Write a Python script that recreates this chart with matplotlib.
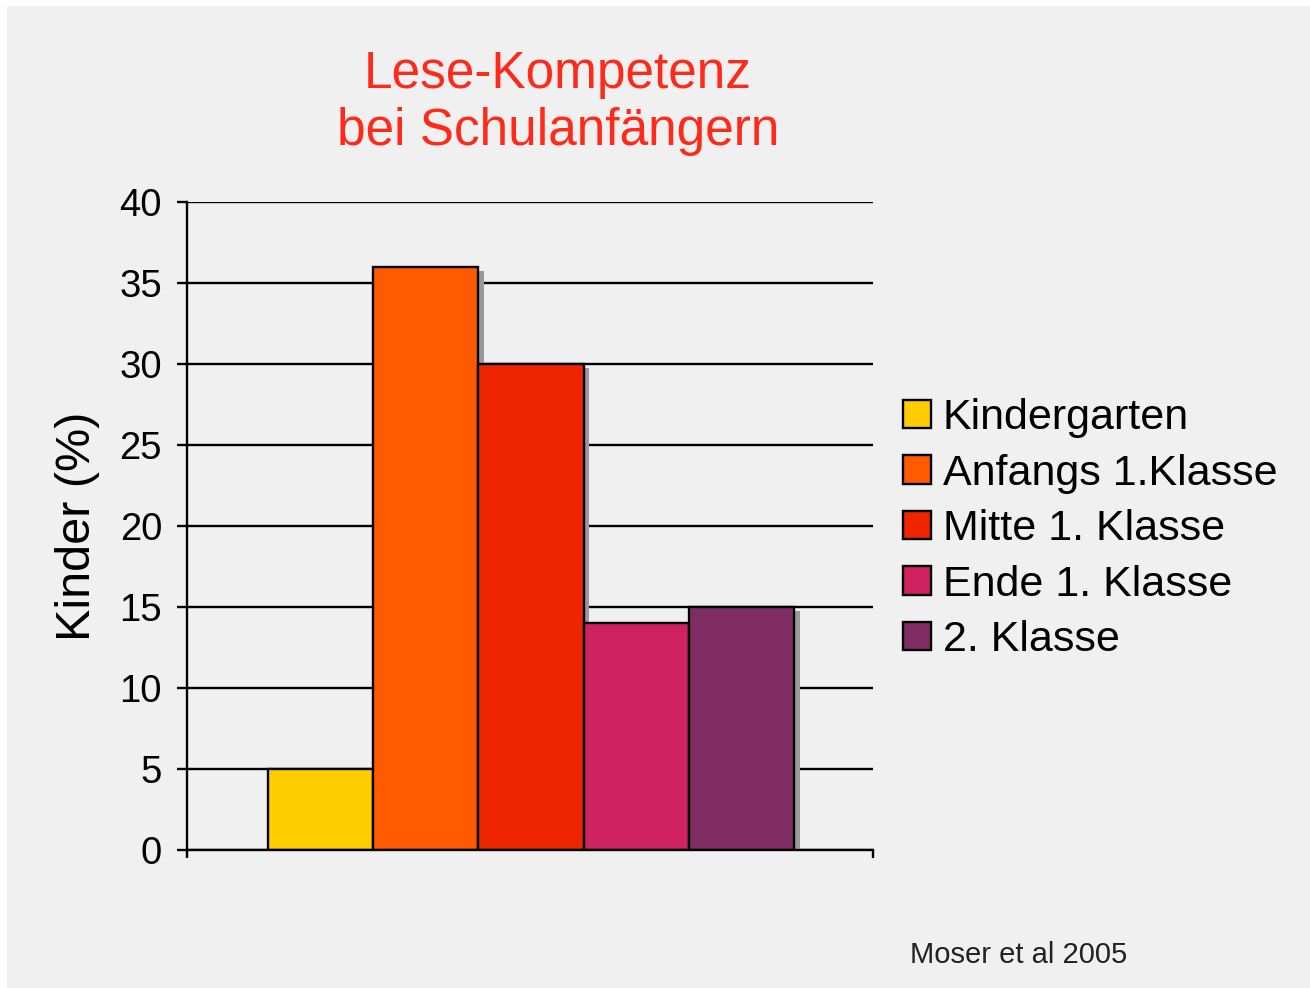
import matplotlib
matplotlib.use("Agg")
import matplotlib.pyplot as plt
import matplotlib.patheffects as pe
from matplotlib.patches import Rectangle

categories = ["Kindergarten", "Anfangs 1.Klasse", "Mitte 1. Klasse", "Ende 1. Klasse", "2. Klasse"]
values = [5, 36, 30, 14, 15]
colors = ["#ffcc00", "#ff5a00", "#ef2400", "#cf2360", "#802d65"]
yticks = [0, 5, 10, 15, 20, 25, 30, 35, 40]

plt.rcParams['font.family'] = ['Liberation Sans', 'DejaVu Sans']

W, H = 1310, 988
fig = plt.figure(figsize=(W / 100, H / 100), dpi=100, facecolor="white")
fig.patches.append(Rectangle((7 / W, 0), 1, (H - 6) / H, transform=fig.transFigure,
                             facecolor="#f0f0f0", edgecolor="none", zorder=-10))

ax = fig.add_axes([187 / W, 1 - 850 / H, (873 - 187) / W, (850 - 202) / H])
ax.set_facecolor("none")

shadow = [pe.SimplePatchShadow(offset=(4.0, -3.0), shadow_rgbFace="#999999", alpha=1.0), pe.Normal()]
xs = list(range(len(values)))
bars = ax.bar(xs, values, width=1.0, color=colors, edgecolor="black", linewidth=1.7,
              zorder=3)
for b, lab in zip(bars, categories):
    b.set_path_effects(shadow)
    b.set_label(lab)

ax.set_xlim(-1.27, 5.25)
ax.set_ylim(0, 40)
ax.set_yticks(yticks)
ax.set_xticks([-1.27, 5.25])
ax.set_xticklabels([])
ax.yaxis.grid(True, color="black", linewidth=1.7, zorder=1)
ax.set_axisbelow(True)
for s in ["top", "right"]:
    ax.spines[s].set_visible(False)
for s in ["left", "bottom"]:
    ax.spines[s].set_linewidth(1.7)
    ax.spines[s].set_zorder(4)
ax.tick_params(axis="y", length=7, width=1.7, direction="out", labelsize=27.5, pad=11)
ax.tick_params(axis="x", length=6, width=1.7, direction="out")

ax.set_ylabel("Kinder (%)", fontsize=35, labelpad=14)

fig.text(558 / W, 1 - 103 / H, "Lese-Kompetenz\nbei Schulanfängern", color="#ff2a1a",
         fontsize=37, ha="center", va="center", linespacing=1.22)

fig.text(910 / W, 1 - 955 / H, "Moser et al 2005", fontsize=21, ha="left", va="center",
         color="#222222")

leg = fig.legend(handles=list(bars), labels=categories, loc="upper left",
                 bbox_to_anchor=(903 / W, 1 - 398 / H), frameon=False, fontsize=31,
                 handlelength=0.65, handleheight=0.65, handletextpad=0.27,
                 labelspacing=0.36, borderaxespad=0, borderpad=0)
for h in leg.legend_handles:
    h.set_path_effects([])
    h.set_linewidth(1.7)

fig.savefig("out.png", dpi=100, facecolor=fig.get_facecolor())
